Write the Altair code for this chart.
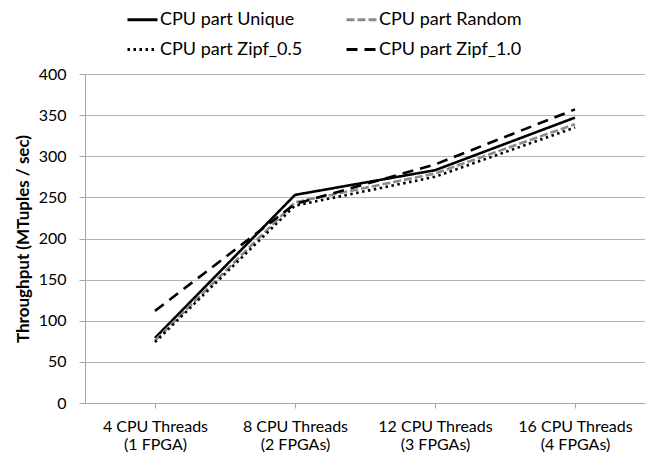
import altair as alt
import pandas as pd

categories = ["4 CPU Threads\n(1 FPGA)", "8 CPU Threads\n(2 FPGAs)",
              "12 CPU Threads\n(3 FPGAs)", "16 CPU Threads\n(4 FPGAs)"]
series = ["CPU part Unique", "CPU part Random", "CPU part Zipf_0.5", "CPU part Zipf_1.0"]
unique = [79, 253, 283, 347]
random_ = [76, 244, 279, 339]
zipf05 = [74, 240, 275, 335]
zipf10 = [112, 242, 290, 357]

rows = []
for name, vals in zip(series, [unique, random_, zipf05, zipf10]):
    for c, v in zip(categories, vals):
        rows.append({"cat": c, "series": name, "val": v})
df = pd.DataFrame(rows)

FONT = "Lato"

chart = alt.Chart(df).mark_line(strokeWidth=2.6).encode(
    x=alt.X("cat:N", sort=categories, title=None,
            scale=alt.Scale(paddingInner=0, paddingOuter=0),
            axis=alt.Axis(labelAngle=0, labelExpr="split(datum.label, '\\n')",
                          labelFontSize=16, labelColor="#000", labelFont=FONT,
                          labelLineHeight=18, labelPadding=10, tickSize=5,
                          tickColor="#a6a6a6", domainColor="#a6a6a6", grid=False)),
    y=alt.Y("val:Q", title="Throughput (MTuples / sec)",
            scale=alt.Scale(domain=[0, 400], nice=False),
            axis=alt.Axis(values=list(range(0, 401, 50)), labelFontSize=16,
                          labelColor="#000", labelFont=FONT, labelPadding=13,
                          tickSize=6, tickColor="#a6a6a6", domainColor="#a6a6a6",
                          gridColor="#b3b3b3", gridWidth=1,
                          titleFontSize=17, titleFont=FONT, titleFontWeight="bold",
                          titleColor="#000", titlePadding=6)),
    color=alt.Color("series:N", sort=series,
                    scale=alt.Scale(domain=series, range=["#000000", "#8c8c8c", "#000000", "#000000"]),
                    legend=alt.Legend(title=None, orient="none", legendX=41, legendY=-71,
                                      columns=2, direction="horizontal",
                                      symbolType="stroke", symbolSize=900,
                                      symbolStrokeWidth=3, labelFontSize=18, labelFont=FONT,
                                      labelColor="#000", columnPadding=37, rowPadding=4,
                                      labelOffset=1)),
    strokeDash=alt.StrokeDash("series:N", sort=series,
                              scale=alt.Scale(domain=series,
                                              range=[[1, 0], [8, 3], [2.5, 3.5], [11, 7]]),
                              legend=None),
    order=alt.Order("series_idx:Q"),
).transform_calculate(
    series_idx="indexof(['CPU part Unique','CPU part Random','CPU part Zipf_0.5','CPU part Zipf_1.0'], datum.series)"
).properties(
    width=560, height=329,
    autosize=alt.AutoSizeParams(type="none"),
    padding={"left": 77, "top": 66, "right": 0, "bottom": 50},
).configure_view(stroke=None).configure(background="white")

chart.save("out.html", embed_options={"renderer": "svg", "actions": False})
